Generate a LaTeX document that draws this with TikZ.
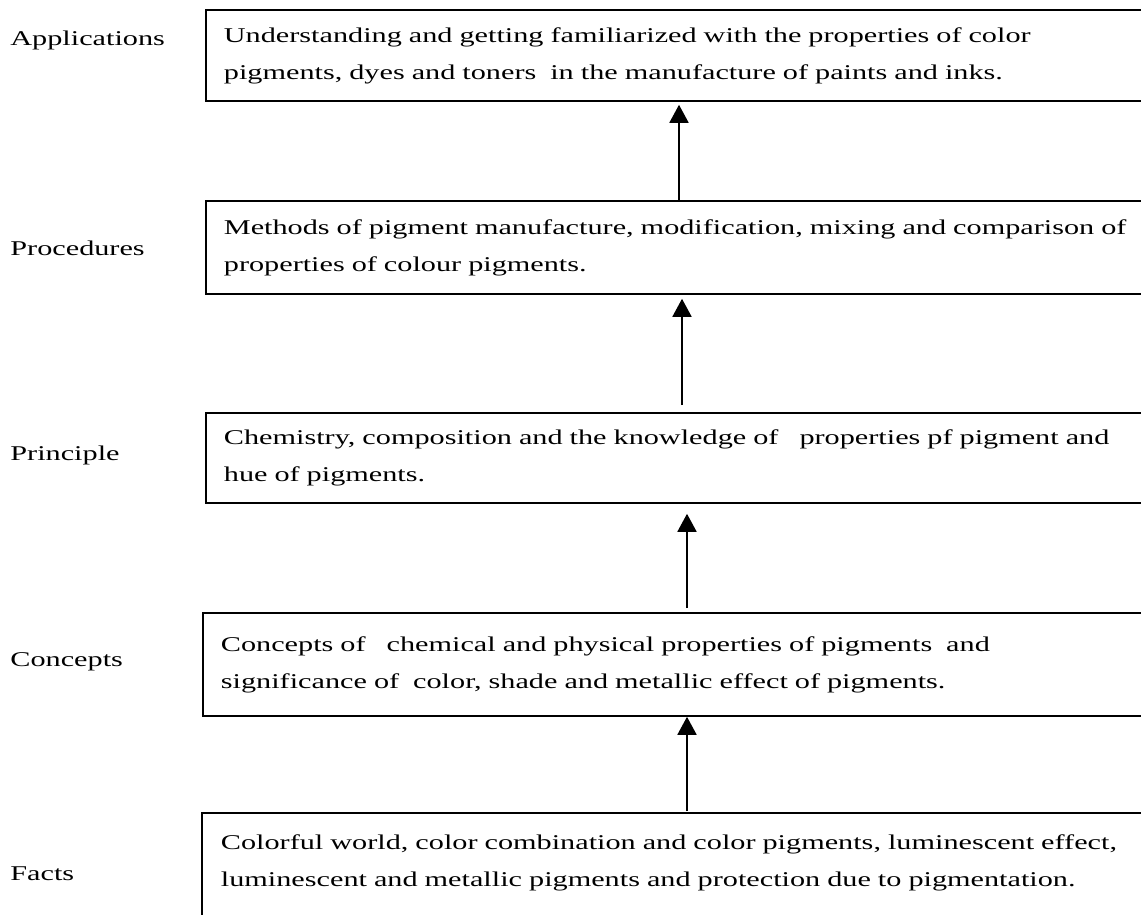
\documentclass[tikz,border=0pt]{standalone}
\usepackage{fontspec}
\setmainfont[FakeStretch=1.44]{Liberation Serif}
\usetikzlibrary{positioning}
\usetikzlibrary{arrows.meta}
\tikzset{
    levelbox/.style={draw, line width=0.9pt, anchor=north west, align=left, text width=470pt,
        inner xsep=9pt, inner ysep=0pt, font=\fontsize{10.5}{18.5}\selectfont},
    levelname/.style={anchor=west, inner sep=0pt, font=\fontsize{10.5}{12}\selectfont},
    boxline/.style={line width=0.9pt},
    up/.style={-{Triangle[width=9.5pt,length=9pt]}, line width=0.9pt},
}

\begin{document}
\begin{tikzpicture}[x=0.5pt, y=-0.5pt]
            \useasboundingbox (0,0) rectangle (1141,915);

            % Boxes, top to bottom
            \node[levelbox, minimum height=45.5pt] (appbox) at (205,9)
                {\raisebox{-1.5pt}{Understanding and getting familiarized with the properties of color}\\
                 \raisebox{-1.5pt}{pigments, dyes and toners\ \ in the manufacture of paints and inks.}};
            \node[levelbox, minimum height=46.5pt] (procbox) at (205,200)
                {Methods of pigment manufacture, modification, mixing and comparison of\\
                 properties of colour pigments.};
            \node[levelbox, minimum height=45pt] (princbox) at (205,412)
                {Chemistry, composition and the knowledge of\ \ \ properties pf pigment and\\
                 hue of pigments.};
            \node[levelbox, minimum height=51.5pt] (concbox) at (202,612)
                {Concepts of\ \ \ chemical and physical properties of pigments\ \ and\\
                 significance of\ \ color, shade and metallic effect of pigments.};
            \node[levelbox, draw=none, minimum height=48.5pt] (factbox) at (202,813)
                {Colorful world, color combination and color pigments, luminescent effect,\\
                 luminescent and metallic pigments and protection due to pigmentation.};
            % open frame, cut by the page edge
            \draw[boxline] (factbox.south west) ++(0,40) |- (factbox.north east);

            % Level names
            \node[levelname] (appname) at (10,40) {Applications};
            \node[levelname] (procname) at (10,248) {Procedures};
            \node[levelname] (princname) at (10,455) {Principle};
            \node[levelname] (concname) at (10,662) {Concepts};
            \node[levelname] (factname) at (10,874) {Facts};

            % Arrows
            \coordinate (a1) at (679,0);
            \coordinate (a2) at (682,0);
            \coordinate (a3) at (687,0);
            \coordinate (a4) at (687,0);
            \draw[up, shorten >=1.5pt] (procbox.north -| a1) -- (appbox.south -| a1);
            \draw[up, shorten <=3.5pt, shorten >=2pt] (princbox.north -| a2) -- (procbox.south -| a2);
            \draw[up, shorten <=2pt, shorten >=5pt] (concbox.north -| a3) -- (princbox.south -| a3);
            \draw[up, shorten <=1pt] (factbox.north -| a4) -- (concbox.south -| a4);
        \end{tikzpicture}
\end{document}
